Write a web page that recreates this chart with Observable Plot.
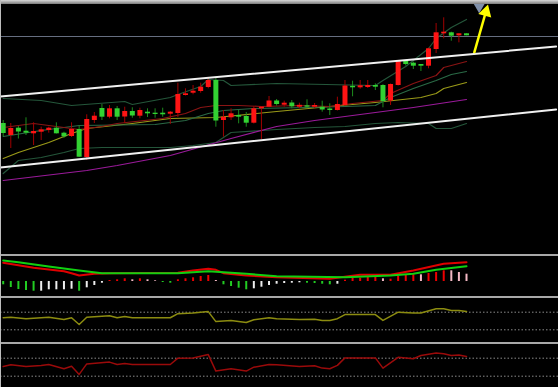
<!DOCTYPE html>
<html><head><meta charset="utf-8">
<script src="https://cdn.jsdelivr.net/npm/d3@7"></script>
<script src="https://cdn.jsdelivr.net/npm/@observablehq/plot@0.6"></script>
<style>
body{margin:0;background:#000;}
#chart{width:558px;height:387px;background:#000;overflow:hidden;position:relative}
.sep{height:2px;background:#a8a8a8}
.top{height:4px;background:linear-gradient(#d8d8d8,#7a7a7a)}
.edge{position:absolute;left:0;top:0;width:1px;height:387px;background:#bdbdbd}
svg{display:block}
</style></head><body><div id="chart"></div>
<script>
// ---- candles (price units) ----
const opens  = [13.70,12.50,13.23,12.93,12.67,12.83,13.00,13.23,12.73,12.40,13.10,10.30,14.00,15.20,14.33,15.17,14.35,14.90,14.43,14.83,14.73,14.73,14.63,14.70,16.50,16.73,16.90,17.30,18.00,14.00,14.27,14.50,14.40,13.73,15.17,15.33,15.95,15.53,15.75,15.33,15.47,15.33,15.33,15.15,15.00,15.50,17.42,17.27,17.30,17.50,17.50,15.95,17.50,19.93,19.73,19.60,19.43,21.10,22.67,22.77,22.47,22.67];
const closes = [12.70,13.20,12.85,12.73,12.90,13.07,13.23,12.67,12.37,13.10,10.33,14.10,14.43,14.33,15.17,14.33,14.90,14.45,15.00,14.67,14.60,14.57,14.83,16.60,16.67,16.93,17.33,18.00,13.95,14.33,14.67,14.33,13.73,15.17,15.33,15.95,15.60,15.73,15.37,15.52,15.33,15.50,15.05,15.00,15.60,17.45,17.27,17.47,17.50,17.33,15.90,17.60,19.90,19.60,19.43,19.43,21.17,22.77,22.83,22.43,22.67,22.47];
const highs  = [14.00,13.70,13.40,14.27,13.77,13.33,13.33,13.77,12.83,13.77,13.47,14.57,14.80,15.60,15.50,15.40,15.33,15.27,15.23,15.17,15.17,15.23,14.90,17.73,17.17,17.50,17.73,18.23,18.25,15.00,15.17,15.00,14.80,15.40,15.40,16.40,16.10,15.93,16.00,15.73,16.07,15.70,15.93,15.67,16.33,18.00,17.93,18.00,18.00,17.67,17.58,17.65,19.95,20.00,19.83,19.60,21.23,23.70,24.27,22.83,22.67,22.67];
const lows   = [12.40,11.20,12.15,12.50,11.50,12.00,12.73,12.65,12.20,12.30,10.30,10.00,13.70,14.00,14.17,14.00,13.70,14.23,14.17,14.30,14.23,14.33,13.60,14.30,16.45,16.57,16.73,17.17,13.33,12.33,14.00,13.67,13.33,13.65,12.10,15.27,15.45,15.33,15.17,15.17,15.17,15.20,14.83,14.50,14.95,15.40,16.37,17.13,17.20,17.00,15.27,15.50,17.45,19.45,19.10,18.90,19.17,20.70,22.17,21.93,21.77,22.47];

// ---- overlays: [candle index, price] ----
const bandUpper = [[0,16.2],[5,16.0],[9,15.5],[16,15.9],[17,15.6],[22,16.3],[23,16.6],[26,17.4],[27,18.1],[29,18.0],[30,17.5],[36,17.7],[49,17.5],[50,18.0],[53,19.4],[56,21.2],[57,22.2],[59,23.3],[61,24.1]];
const bandMid   = [[0,12.4],[5,13.0],[10,13.5],[20,13.6],[24,14.0],[27,14.7],[29,15.0],[33,15.2],[40,15.3],[45,15.4],[49,15.5],[51,16.3],[54,17.2],[57,18.0],[59,18.6],[61,18.9]];
const bandLower = [[0,8.7],[2,10.0],[5,10.3],[8,10.8],[10,11.2],[13,11.3],[22,11.3],[25,11.5],[28,11.8],[29,12.3],[30,12.8],[34,13.0],[36,13.1],[41,13.3],[45,13.4],[49,13.7],[52,13.8],[56,13.7],[57,13.2],[59,13.2],[61,13.7]];
const maRed     = [[0,13.3],[4,13.7],[8,13.3],[10,13.1],[13,13.4],[15,13.7],[21,14.2],[24,14.7],[26,15.3],[28,15.5],[31,15.5],[34,15.4],[39,15.5],[43,15.4],[46,15.7],[50,16.0],[51,16.7],[54,17.7],[57,18.5],[58,19.3],[61,19.9]];
const maOlive   = [[0,10.2],[2,10.8],[6,11.8],[9,12.7],[11,13.2],[17,13.7],[22,14.2],[28,14.3],[36,14.9],[43,15.4],[49,15.8],[55,16.3],[57,16.7],[58,17.2],[61,17.8]];
const maPurple  = [[0,8.0],[11,9.0],[15,9.5],[22,10.5],[30,12.2],[36,13.4],[41,14.0],[49,14.8],[54,15.3],[61,16.1]];
const channelUpper = [[-0.36,16.4],[72.8,21.4]];
const channelLower = [[-0.36,9.3],[72.8,15.1]];
const priceLevel = [22.4];
const arrowShaft = [{x1:62.0, y1:20.73, x2:63.45, y2:24.6}];
const arrowHead = [{x:63.55, y:24.85, angle:16}];
const markerPts = [{x:62.67, y:25.35}];

// ---- MACD ----
const macdHist = [-0.033,-0.06,-0.08,-0.09,-0.097,-0.097,-0.083,-0.083,-0.083,-0.077,-0.097,-0.063,-0.04,-0.017,0.01,0.017,0.027,0.017,0.027,0.017,0.007,-0.01,-0.017,0.017,0.027,0.037,0.05,0.06,0.01,-0.033,-0.05,-0.067,-0.083,-0.073,-0.057,-0.04,-0.027,-0.02,-0.017,-0.013,-0.017,-0.02,-0.027,-0.033,-0.027,0.013,0.033,0.033,0.04,0.04,0.027,0.023,0.053,0.067,0.067,0.067,0.08,0.09,0.107,0.107,0.09,0.073];
const macdTone = "gggggwwwwwgwwwrrrprppggrrrrrpggggwwwwwwwggggwrrrrrprrrrprrrppp".split("");
const difLine = [[0,0.187],[4,0.137],[8,0.103],[9,0.083],[10,0.06],[12,0.077],[14,0.083],[23,0.087],[25,0.11],[27,0.127],[28,0.117],[29,0.083],[32,0.06],[36,0.043],[43,0.027],[47,0.067],[51,0.067],[54,0.11],[58,0.177],[61,0.193]];
const deaLine = [[0,0.21],[2,0.193],[6,0.15],[10,0.11],[13,0.083],[23,0.083],[27,0.103],[32,0.077],[36,0.053],[45,0.043],[51,0.06],[54,0.077],[57,0.117],[61,0.153]];

// ---- oscillators ----
const oscLevels = [20, 80];
const osc1 = [[0,61],[1,63],[3,58],[5,61],[6,63],[8,55],[9,61],[10,38],[11,63],[14,68],[15,61],[16,65],[17,61],[22,61],[23,75],[25,77],[27,82],[28,48],[30,52],[32,45],[33,54],[35,61],[36,58],[39,55],[41,56],[42,52],[43,52],[44,58],[45,72],[46,72],[49,72],[50,52],[52,80],[54,77],[55,77],[57,92],[58,92],[59,86],[60,86],[61,82]];
const osc2 = [[0,52],[1,58],[3,52],[5,56],[6,59],[8,45],[9,53],[10,26],[11,61],[14,67],[15,59],[16,62],[17,59],[22,59],[23,80],[25,81],[27,92],[28,37],[30,45],[32,37],[33,50],[35,59],[36,58],[39,52],[41,55],[42,47],[43,45],[44,56],[45,81],[49,81],[50,47],[52,83],[54,78],[55,89],[57,97],[58,95],[59,89],[60,91],[61,86]];

const W = 558;
const xScale = {domain:[0,61], range:[2.7,466]};
const base = {width:W, marginTop:0, marginBottom:0, marginLeft:0, marginRight:0,
  style:{background:"#000", overflow:"visible"}, color:{type:"identity"}};
const X = d=>d[0], Y = d=>d[1];

const candles = d3.range(opens.length).map(i=>({i, o:opens[i], c:closes[i], h:highs[i], l:lows[i]}));

const main = Plot.plot({...base, height:250,
  x:{...xScale, axis:null}, y:{domain:[0.6,25.6], range:[250,0], axis:null},
  marks:[
    Plot.ruleY(priceLevel, {stroke:"#666e80", strokeWidth:1}),
    Plot.line(bandUpper, {x:X, y:Y, stroke:"#24563a", strokeWidth:1.2}),
    Plot.line(bandLower, {x:X, y:Y, stroke:"#24563a", strokeWidth:1.2}),
    Plot.line(maPurple, {x:X, y:Y, stroke:"#9a1a9a", strokeWidth:1.2}),
    Plot.line(maOlive, {x:X, y:Y, stroke:"#9a9a18", strokeWidth:1.2}),
    Plot.line(bandMid, {x:X, y:Y, stroke:"#2a6a46", strokeWidth:1.2}),
    Plot.line(maRed, {x:X, y:Y, stroke:"#8a1414", strokeWidth:1.2}),
    Plot.ruleX(candles, {x:"i", y1:"l", y2:"h", stroke:d=>d.c>=d.o?"#a00000":"#1c8a1c", strokeWidth:1}),
    Plot.ruleX(candles, {x:"i", y1:"o", y2:"c", stroke:d=>d.c>=d.o?"#ff1414":"#32d232", strokeWidth:5}),
    Plot.line(channelUpper, {x:X, y:Y, stroke:"#f0f0f0", strokeWidth:2}),
    Plot.line(channelLower, {x:X, y:Y, stroke:"#f0f0f0", strokeWidth:2}),
    Plot.link(arrowShaft, {x1:"x1", y1:"y1", x2:"x2", y2:"y2", stroke:"#ffff00", strokeWidth:2.5}),
    Plot.dot(arrowHead, {x:"x", y:"y", symbol:"triangle", rotate:"angle", r:5, fill:"#ffff00", stroke:null}),
    Plot.dot(markerPts, {x:"x", y:"y", symbol:"triangle", rotate:180, r:4, fill:"#8090aa", stroke:null})
  ]});

const toneColor = {g:"#22cc22", w:"#eeeeee", r:"#ee0000", p:"#f4b8c4"};
const hist = d3.range(macdHist.length).map(i=>({i, v:macdHist[i], t:toneColor[macdTone[i]]}));
const macd = Plot.plot({...base, height:40,
  x:{...xScale, axis:null}, y:{domain:[-0.15,0.25], range:[40,0], axis:null},
  marks:[
    Plot.ruleX(hist, {x:"i", y1:0, y2:"v", stroke:"t", strokeWidth:2}),
    Plot.line(difLine, {x:X, y:Y, stroke:"#e00000", strokeWidth:2}),
    Plot.line(deaLine, {x:X, y:Y, stroke:"#10d010", strokeWidth:2})
  ]});

const oscPlot = (data, color, h, r80, r20) => Plot.plot({...base, height:h,
  x:{...xScale, axis:null}, y:{domain:[20,80], range:[r20,r80], axis:null},
  marks:[
    Plot.ruleY(oscLevels, {stroke:"#8a8a8a", strokeWidth:1, strokeDasharray:"1.5,2"}),
    Plot.line(data, {x:X, y:Y, stroke:color, strokeWidth:1.5})
  ]});

const p3 = oscPlot(osc1, "#8c8c10", 44, 13.7, 31.3);
const p4 = oscPlot(osc2, "#9a0a0a", 43, 13.7, 31.7);

const root = document.getElementById("chart");
const div = c => { const d = document.createElement("div"); d.className = c; return d; };
root.append(div("top"), main, div("sep"), macd, div("sep"), p3, div("sep"), p4, div("edge"));
</script></body></html>
